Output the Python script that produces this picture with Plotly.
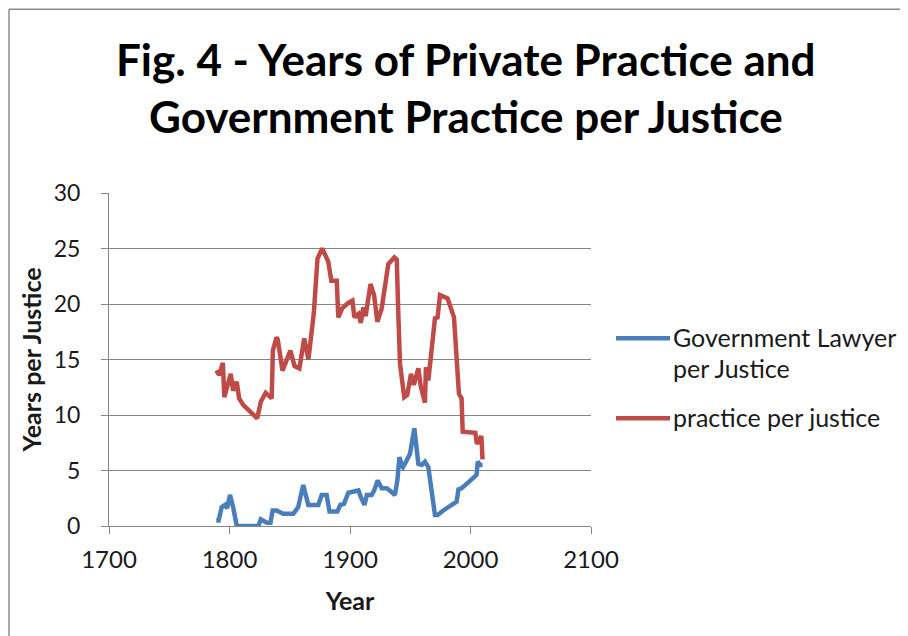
import plotly.graph_objects as go

years_gov = [1789, 1791, 1793.5, 1796.3, 1798, 1800.4, 1803.2, 1806, 1824, 1826,
             1831, 1834, 1835.8, 1839, 1844.6, 1853, 1857, 1861.2, 1865.4, 1873.7,
             1876.5, 1880.6, 1883, 1889.5, 1892, 1895, 1898.6, 1905, 1907, 1909,
             1912, 1914, 1918, 1920, 1923, 1926.3, 1930.4, 1933, 1937.3, 1939.3,
             1941, 1942.8, 1944, 1947, 1949.8, 1951.2, 1953.4, 1956.7, 1959.5, 1962.2,
             1965, 1970.5, 1972.7, 1977.4, 1981.5, 1988.5, 1990, 1992.6, 1996.8, 2005,
             2006, 2008, 2010]
gov_lawyer = [0.5, 0.5, 1.7, 1.9, 1.6, 2.8, 1.6, 0.0, 0.0, 0.6,
              0.3, 0.3, 1.4, 1.4, 1.1, 1.1, 1.7, 3.7, 1.9, 1.9,
              2.8, 2.8, 1.3, 1.3, 1.9, 2.0, 3.0, 3.1, 3.2, 2.6,
              1.9, 2.8, 2.8, 3.2, 4.1, 3.4, 3.4, 3.2, 2.8, 4.1,
              6.2, 5.5, 5.3, 5.9, 6.5, 7.4, 8.8, 5.6, 5.5, 5.8,
              5.3, 1.0, 1.0, 1.4, 1.7, 2.2, 3.3, 3.4, 3.8, 4.6,
              5.8, 5.5, 5.5]

years_prac = [1789, 1791.5, 1794.5, 1795.7, 1801, 1803, 1806, 1808, 1811.5, 1823,
              1826, 1830, 1835, 1836, 1839, 1840, 1844, 1850.5, 1854, 1858,
              1862, 1865.5, 1870, 1873, 1877, 1882, 1884.5, 1889, 1890.3, 1893.5,
              1898.6, 1902, 1903.6, 1907, 1909, 1911, 1913, 1917, 1920, 1922.7,
              1926.3, 1931.8, 1936.8, 1938.8, 1940.1, 1941.5, 1945, 1947.5, 1950.6, 1953,
              1956.7, 1958.7, 1962.2, 1963, 1965, 1970.5, 1972.7, 1974.7, 1981, 1986.3,
              1990.4, 1992.6, 1993.5, 2004, 2005.3, 2009, 2010]
practice = [14.0, 13.6, 14.7, 11.6, 13.7, 12.2, 13.0, 11.5, 10.9, 9.7,
            11.2, 12.0, 11.5, 15.8, 17.0, 16.8, 14.0, 15.8, 14.4, 14.2,
            16.9, 15.0, 19.2, 24.1, 25.0, 23.8, 22.1, 22.1, 18.8, 19.6,
            20.1, 20.3, 18.8, 19.1, 18.3, 19.7, 18.9, 21.8, 20.8, 18.4,
            19.6, 23.6, 24.2, 24.0, 19.1, 14.6, 11.6, 11.8, 13.7, 12.7,
            14.2, 12.6, 11.1, 14.3, 13.1, 18.7, 18.8, 20.8, 20.5, 18.8,
            11.9, 11.5, 8.5, 8.4, 7.4, 8.1, 6.0]

x_ticks = [1700, 1800, 1900, 2000, 2100]
y_ticks = [0, 5, 10, 15, 20, 25, 30]

title_lines = ["Fig. 4 - Years of Private Practice and", "Government Practice per Justice"]
series_names = ["Government Lawyer<br>per Justice", "practice per justice"]
series_colors = ["#4a7ebb", "#be4b48"]

FONT = "Lato"
TXT = "#1a1a1a"

# page is offset 8px by the browser's body margin; plot area spans screen x 109..591, y 192.7..525.7
def px(sx):
    return (sx - 109) / 482.0

def py(sy):
    return (525.7 - sy) / 333.0

fig = go.Figure()
fig.add_trace(go.Scatter(x=years_gov, y=gov_lawyer, mode="lines", name=series_names[0],
                         line=dict(color=series_colors[0], width=4.5), showlegend=False))
fig.add_trace(go.Scatter(x=years_prac, y=practice, mode="lines", name=series_names[1],
                         line=dict(color=series_colors[1], width=4.5), showlegend=False))

fig.update_layout(
    width=908, height=636,
    margin=dict(l=101, r=325, t=185, b=118),
    paper_bgcolor="white", plot_bgcolor="white",
    font=dict(family=FONT, color=TXT),
    showlegend=False,
    xaxis=dict(range=[1700, 2100], tickvals=x_ticks, showgrid=False, automargin=False,
               showline=True, linecolor="#868686", linewidth=1,
               ticks="outside", ticklen=7, tickcolor="#868686",
               ticklabelstandoff=5,
               tickfont=dict(size=24, family=FONT, color=TXT),
               title=dict(text="<b>Year</b>", font=dict(size=25, family=FONT, color=TXT),
                          standoff=20),
               zeroline=False),
    yaxis=dict(range=[0, 30], tickvals=y_ticks, showgrid=True, automargin=False,
               gridcolor="#868686", gridwidth=1,
               showline=True, linecolor="#868686", linewidth=1,
               ticks="outside", ticklen=7, tickcolor="#868686",
               ticklabelstandoff=16,
               tickfont=dict(size=23, family=FONT, color=TXT),
               title=dict(text="<b>Years per Justice</b>", font=dict(size=25, family=FONT, color=TXT),
                          standoff=4),
               zeroline=False),
)

# title (two centred lines)
for text, sy in zip(title_lines, [58.5, 115.5]):
    fig.add_annotation(text="<b>%s</b>" % text, xref="paper", yref="paper",
                       x=px(466), y=py(sy), xanchor="center", yanchor="middle",
                       showarrow=False, font=dict(size=44, family=FONT, color="black"))

# legend drawn manually
for color, sy in zip(series_colors, [338, 418]):
    fig.add_shape(type="line", xref="paper", yref="paper",
                  x0=px(616), x1=px(670), y0=py(sy), y1=py(sy),
                  line=dict(color=color, width=4.5))
fig.add_annotation(text="Government Lawyer", xref="paper", yref="paper",
                   x=px(671), y=py(337), xanchor="left", yanchor="middle",
                   showarrow=False, font=dict(size=25, family=FONT, color=TXT))
fig.add_annotation(text="per Justice", xref="paper", yref="paper",
                   x=px(671), y=py(368), xanchor="left", yanchor="middle",
                   showarrow=False, font=dict(size=25, family=FONT, color=TXT))
fig.add_annotation(text="practice per justice", xref="paper", yref="paper",
                   x=px(671), y=py(417), xanchor="left", yanchor="middle",
                   showarrow=False, font=dict(size=25, family=FONT, color=TXT))

# outer chart border (left and top edges visible)
fig.add_shape(type="line", xref="paper", yref="paper",
              x0=px(9), x1=px(9), y0=py(9), y1=py(650),
              line=dict(color="#8c8c8c", width=1.5))
fig.add_shape(type="line", xref="paper", yref="paper",
              x0=px(9), x1=px(920), y0=py(9), y1=py(9),
              line=dict(color="#8c8c8c", width=1.5))

fig.write_html("out.html")
